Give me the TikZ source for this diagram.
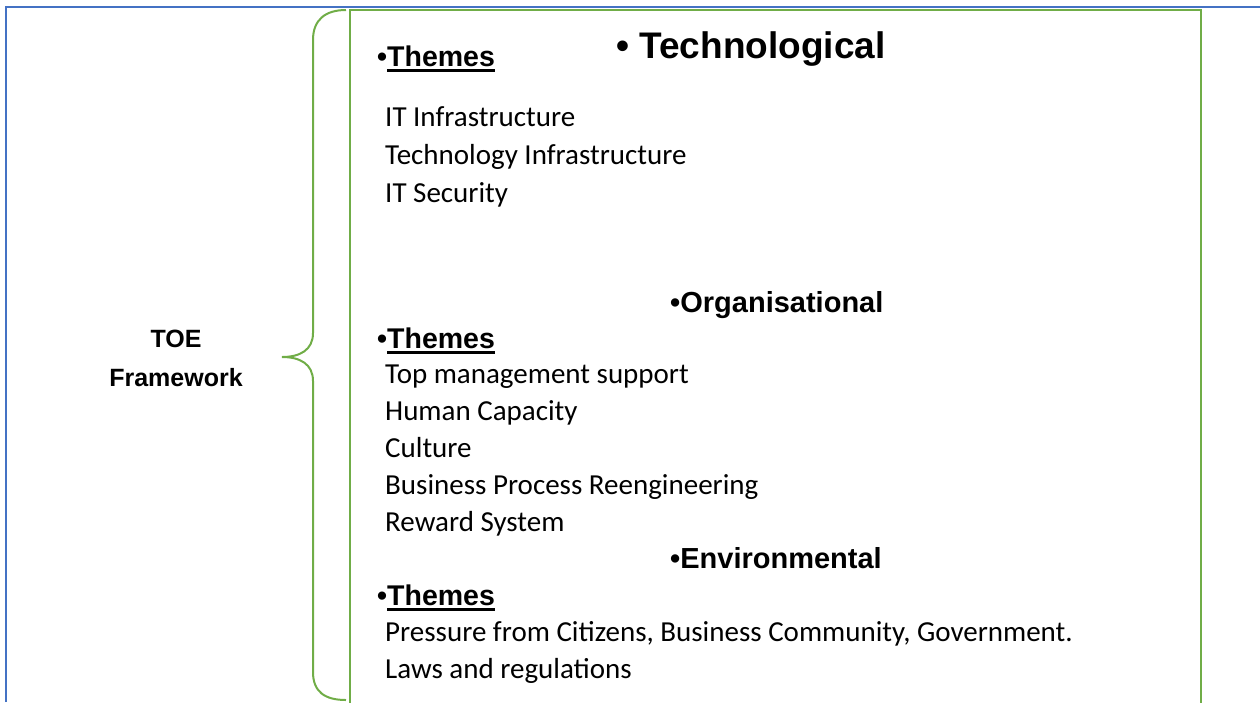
\documentclass[tikz,border=0pt]{standalone}
\usepackage{fontspec}
\setmainfont{Carlito}
\newfontfamily\headfont{Liberation Sans}
\usetikzlibrary{positioning}
\definecolor{toegreen}{RGB}{112,173,71}
\definecolor{toeblue}{RGB}{68,114,196}
% 粗下划线
\newcommand\ulword[1]{\setbox0\hbox{#1}\rlap{\rule[-6pt]{\wd0}{2.6pt}}\box0}

\begin{document}
\begin{tikzpicture}[x=1pt,y=-1pt,
    head/.style={anchor=base west,inner sep=0pt,font=\headfont\bfseries\fontsize{29}{31}\selectfont},
    theme/.style={anchor=base west,inner sep=0pt,font=\headfont\bfseries\fontsize{28.5}{31}\selectfont},
    item/.style={anchor=base west,inner sep=0pt,font=\fontsize{29}{31}\selectfont}]
                        \useasboundingbox (0,0) rectangle (1260,702);

                        % 外框
                        \draw[toeblue,line width=1.5pt] (6,702) -- (6,7) -- (1260,7);

                        % 右侧方框
                        \draw[toegreen,line width=2.6pt] (350,712) -- (350,10) -- (1201,10) -- (1201,712);

                        % 左侧标题
                        \node[align=center,inner sep=0pt,font=\headfont\bfseries\fontsize{25}{39}\selectfont]
                            (toe) at (176,358) {TOE\\Framework};

                        % 大括号
                        \coordinate (btop) at (346,10);
                        \coordinate (btip) at (282,357);
                        \coordinate (bbot) at (346,700);
                        \draw[toegreen,line width=2pt]
                        (btop) .. controls (325,10) and (313,20) .. (313,40) -- (313,333)
                        .. controls (313,350) and (300,357) .. (btip)
                        .. controls (300,357) and (313,364) .. (313,381) -- (313,672)
                        .. controls (313,692) and (325,700) .. (bbot);

                        % Technological
                        \node[head,font=\headfont\bfseries\fontsize{37}{39}\selectfont] (tech) at (616,58) {• Technological};
                        \node[theme] (techth) at (377,66) {•\ulword{Themes}};
                        \node[item] (t1) at (385,126) {IT Infrastructure};
                        \node[item] (t2) at (385,164) {Technology Infrastructure};
                        \node[item] (t3) at (385,202) {IT Security};

                        % Organisational
                        \node[head] (org) at (670,312) {•Organisational};
                        \node[theme] (orgth) at (377,348) {•\ulword{Themes}};
                        \node[item] (o1) at (385,383) {Top management support};
                        \node[item] (o2) at (385,420) {Human Capacity};
                        \node[item] (o3) at (385,457) {Culture};
                        \node[item] (o4) at (385,494) {Business Process Reengineering};
                        \node[item] (o5) at (385,531) {Reward System};

                        % Environmental
                        \node[head] (env) at (670,568) {•Environmental};
                        \node[theme] (envth) at (377,605) {•\ulword{Themes}};
                        \node[item] (e1) at (385,641) {Pressure from Citizens, Business Community, Government.};
                        \node[item] (e2) at (385,678) {Laws and regulations};
                    \end{tikzpicture}
\end{document}
